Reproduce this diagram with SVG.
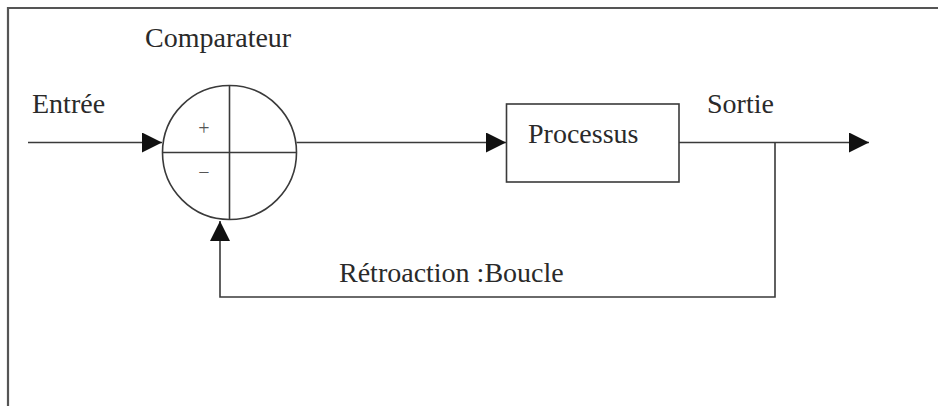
<svg xmlns="http://www.w3.org/2000/svg" width="938" height="406" viewBox="0 0 938 406">
  <style>
    .line { fill: none; stroke: #3a3a3a; stroke-width: 1.6; }
    .shape { fill: #ffffff; stroke: #3a3a3a; stroke-width: 1.6; }
    .label { font-family: "Liberation Serif", "Times New Roman", serif; font-size: 28px; fill: #2a2a2a; }
    .sign { font-family: "Liberation Serif", "Times New Roman", serif; font-size: 20px; fill: #555555; text-anchor: middle; }
  </style>
  <defs>
    <marker id="arrow" viewBox="0 0 20 20" refX="20" refY="10" markerWidth="20" markerHeight="20" markerUnits="userSpaceOnUse" orient="auto">
      <path d="M0,0 L20,10 L0,20 Z" fill="#111111"/>
    </marker>
  </defs>

  <rect x="0" y="0" width="938" height="406" fill="#ffffff"/>

  <!-- frame -->
  <path d="M8,406 L8,8 L938,8" fill="none" stroke="#555555" stroke-width="2.2"/>

  <!-- connectors -->
  <g id="connectors">
    <path class="line" d="M28,142.5 L162,142.5" marker-end="url(#arrow)"/>
    <path class="line" d="M296.5,142.5 L506,142.5" marker-end="url(#arrow)"/>
    <path class="line" d="M679,142.5 L869,142.5" marker-end="url(#arrow)"/>
    <path class="line" d="M775,142.5 L775,297 L220,297 L220,221" marker-end="url(#arrow)"/>
  </g>

  <!-- comparator -->
  <g id="comparateur">
    <circle class="shape" cx="229.5" cy="152.5" r="67"/>
    <line class="line" x1="162.5" y1="152.5" x2="296.5" y2="152.5"/>
    <line class="line" x1="229.5" y1="85.5" x2="229.5" y2="219.5"/>
    <text class="sign" x="204" y="135">+</text>
    <text class="sign" x="204" y="179">−</text>
    <text class="label" x="145" y="47">Comparateur</text>
  </g>

  <!-- process block -->
  <g id="processus">
    <rect class="shape" x="506.5" y="104" width="172.5" height="78"/>
    <text class="label" x="528" y="143">Processus</text>
  </g>

  <!-- signal labels -->
  <g id="entree">
    <text class="label" x="32" y="113">Entrée</text>
  </g>
  <g id="sortie">
    <text class="label" x="707" y="113">Sortie</text>
  </g>
  <g id="retroaction">
    <text class="label" x="339" y="282">Rétroaction :Boucle</text>
  </g>
</svg>
